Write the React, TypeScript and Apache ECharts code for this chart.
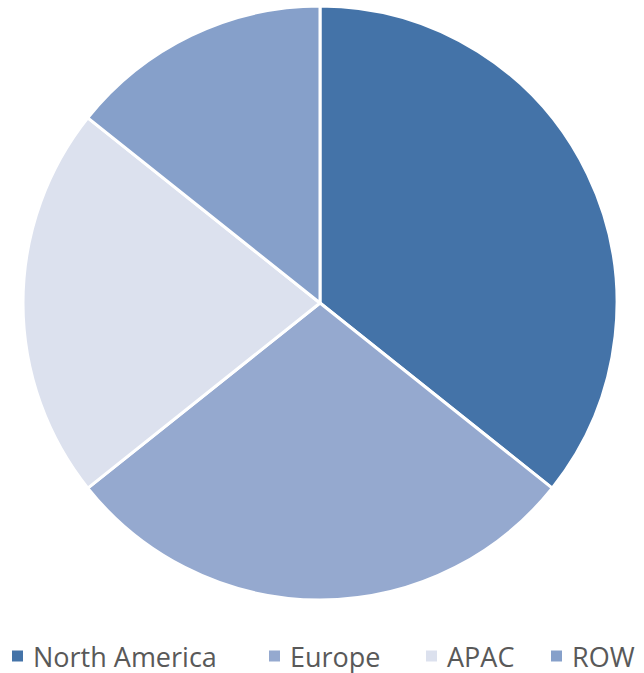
import React, { useEffect, useRef } from "react";
import * as echarts from "echarts";

const categories = ["North America", "Europe", "APAC", "ROW"];
const values = [25, 20, 15, 10];
const colors = ["#4473A8", "#95A9CF", "#DCE1EE", "#86A0CA"];
const legendLefts = [10, 267, 424, 549];

export default function App() {
  const ref = useRef<HTMLDivElement>(null);
  useEffect(() => {
    if (!ref.current) return;
    const chart = echarts.init(ref.current, undefined, { renderer: "svg" });
    const legends = categories.map((name, i) => ({
      data: [name],
      left: legendLefts[i],
      top: 642,
      padding: 0,
      orient: "horizontal",
      itemWidth: 13,
      itemHeight: 13,
      icon: "rect",
      selectedMode: false,
      textStyle: {
        color: "#595959",
        fontSize: 27,
        lineHeight: 28,
        fontFamily: "'Open Sans', sans-serif",
        padding: [0, 0, 0, 4],
      },
    }));
    chart.setOption({
      animation: false,
      color: colors,
      legend: legends,
      series: [
        {
          type: "pie",
          center: [320, 303],
          radius: 297,
          startAngle: 90,
          clockwise: true,
          label: { show: false },
          labelLine: { show: false },
          emphasis: { disabled: true },
          itemStyle: { borderColor: "#ffffff", borderWidth: 3 },
          data: categories.map((name, i) => ({ name, value: values[i] })),
        },
      ],
    });
    return () => chart.dispose();
  }, []);
  return (
    <div
      ref={ref}
      style={{ position: "fixed", left: 0, top: 0, width: 644, height: 673, background: "#fff" }}
    />
  );
}
